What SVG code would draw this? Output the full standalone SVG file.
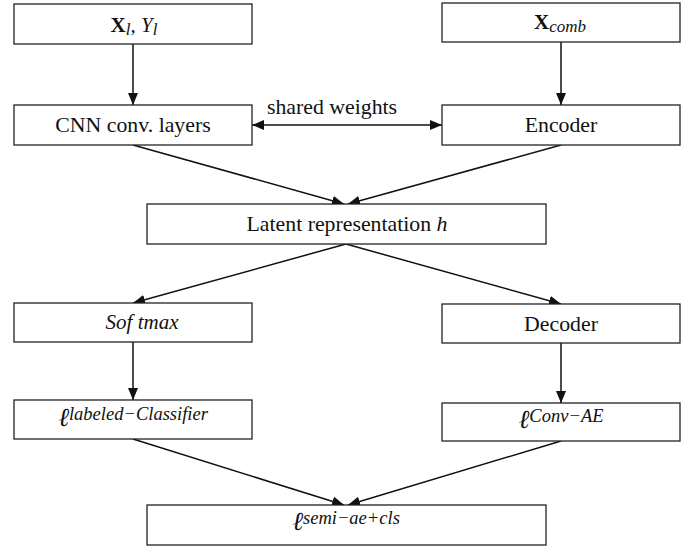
<svg xmlns="http://www.w3.org/2000/svg" width="697" height="549" viewBox="0 0 697 549">
<style>
.box{fill:#fff;stroke:#222;stroke-width:1.3}
text{font-family:'Liberation Serif','DejaVu Serif',serif;fill:#111;text-anchor:middle}
.t{font-size:21.8px}
.m{font-style:italic;font-size:21px}
.ell{font-size:26px}
.sup{font-size:18.5px}
.sub{font-size:17px}
.ln{stroke:#111;stroke-width:1.5;fill:none}
</style>
<defs>
<marker id="ah" viewBox="0 0 12 10" refX="12" refY="5" markerWidth="12" markerHeight="10" markerUnits="userSpaceOnUse" orient="auto-start-reverse">
<path d="M0,0 L12,5 L0,10 z" fill="#111"/>
</marker>
</defs>
<rect width="697" height="549" fill="#fff"/>
<g id="connectors">
<line class="ln" x1="133" y1="44" x2="133" y2="105" marker-end="url(#ah)"/>
<line class="ln" x1="561" y1="42" x2="561" y2="105" marker-end="url(#ah)"/>
<line class="ln" x1="252" y1="125" x2="442" y2="125" marker-start="url(#ah)" marker-end="url(#ah)"/>
<line class="ln" x1="133" y1="145" x2="344" y2="204" marker-end="url(#ah)"/>
<line class="ln" x1="561" y1="145" x2="348" y2="204" marker-end="url(#ah)"/>
<line class="ln" x1="346" y1="244" x2="133" y2="303" marker-end="url(#ah)"/>
<line class="ln" x1="346" y1="244" x2="561" y2="304" marker-end="url(#ah)"/>
<line class="ln" x1="133" y1="342" x2="133" y2="400" marker-end="url(#ah)"/>
<line class="ln" x1="561" y1="343" x2="561" y2="403" marker-end="url(#ah)"/>
<line class="ln" x1="133" y1="439" x2="344" y2="505" marker-end="url(#ah)"/>
<line class="ln" x1="561" y1="441" x2="348" y2="505" marker-end="url(#ah)"/>
<text class="t" x="332" y="114">shared weights</text>
</g>
<g id="n-xl">
<rect class="box" x="14" y="4" width="238" height="40"/>
<text class="m" x="134" y="32"><tspan font-style="normal" font-weight="bold">X</tspan><tspan class="sub" dy="3">l</tspan><tspan dy="-3">, Y</tspan><tspan class="sub" dy="3">l</tspan></text>
</g>
<g id="n-xcomb">
<rect class="box" x="442" y="3" width="238" height="39"/>
<text class="m" x="560" y="29"><tspan font-style="normal" font-weight="bold">X</tspan><tspan class="sub" dy="3">comb</tspan></text>
</g>
<g id="n-cnn">
<rect class="box" x="14" y="105" width="238" height="40"/>
<text class="t" x="133" y="132">CNN conv. layers</text>
</g>
<g id="n-enc">
<rect class="box" x="442" y="105" width="238" height="40"/>
<text class="t" x="561" y="132">Encoder</text>
</g>
<g id="n-latent">
<rect class="box" x="147" y="204" width="399" height="40"/>
<text class="t" x="347" y="231">Latent representation <tspan font-style="italic">h</tspan></text>
</g>
<g id="n-softmax">
<rect class="box" x="14" y="303" width="238" height="39"/>
<text class="m" x="142" y="329">Sof tmax</text>
</g>
<g id="n-dec">
<rect class="box" x="442" y="304" width="238" height="39"/>
<text class="t" x="561" y="331">Decoder</text>
</g>
<g id="n-lcls">
<rect class="box" x="14" y="400" width="238" height="39"/>
<text class="m" x="133" y="426"><tspan class="ell">ℓ</tspan><tspan class="sup" dy="-6">labeled−Classifier</tspan></text>
</g>
<g id="n-lae">
<rect class="box" x="442" y="403" width="238" height="38"/>
<text class="m" x="561" y="428"><tspan class="ell">ℓ</tspan><tspan class="sup" dy="-6">Conv−AE</tspan></text>
</g>
<g id="n-lsemi">
<rect class="box" x="147" y="505" width="399" height="40"/>
<text class="m" x="346" y="530"><tspan class="ell">ℓ</tspan><tspan class="sup" dy="-6">semi−ae+cls</tspan></text>
</g>
</svg>
